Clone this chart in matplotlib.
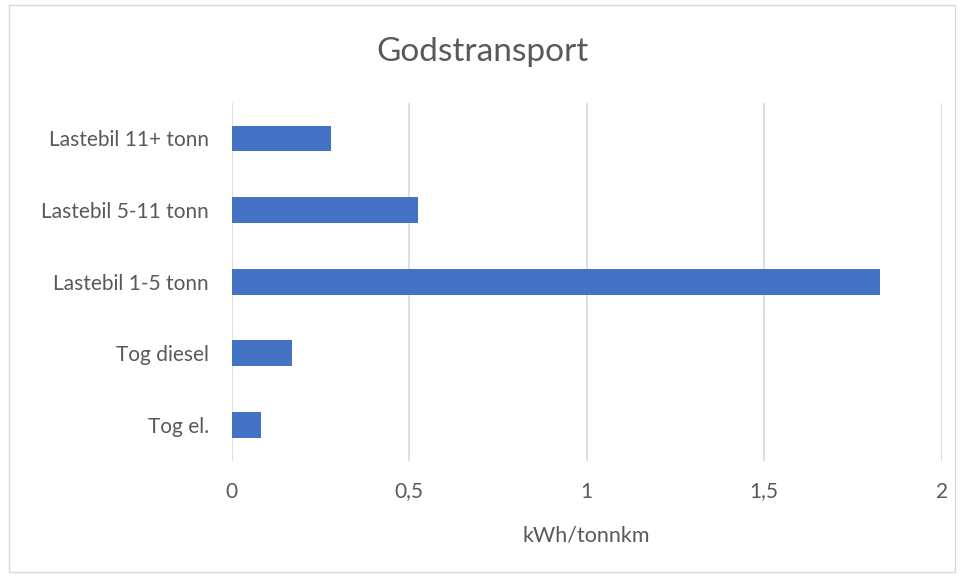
import matplotlib.pyplot as plt
from matplotlib.patches import Rectangle

categories = ['Tog el.', 'Tog diesel', 'Lastebil 1-5 tonn', 'Lastebil 5-11 tonn', 'Lastebil 11+ tonn']
values = [0.081, 0.171, 1.826, 0.526, 0.279]
xticks = [0, 0.5, 1, 1.5, 2]
xlabels = ['0', '0,5', '1', '1,5', '2']

plt.rcParams['font.family'] = ['Lato', 'DejaVu Sans']
txt = '#595959'

fig = plt.figure(figsize=(9.64, 5.76), dpi=100)
ax = fig.add_axes([0.2404, 0.2002, 0.7365, 0.6215])

ax.barh(range(len(categories)), values, height=0.36, color='#4472c4', zorder=3)
ax.set_ylim(-0.5, len(categories) - 0.5)
ax.set_xlim(0, 2)
ax.set_yticks(range(len(categories)))
ax.set_yticklabels(categories)
ax.set_xticks(xticks)
ax.set_xticklabels(xlabels)
ax.grid(axis='x', color='#d9d9d9', linewidth=1.2, zorder=0)
for s in ax.spines.values():
    s.set_visible(False)
ax.tick_params(length=0, labelsize=15, labelcolor=txt)
ax.tick_params(axis='x', pad=15)
ax.tick_params(axis='y', pad=16.5)
ax.set_xlabel('kWh/tonnkm', fontsize=15.5, color=txt, labelpad=17)

fig.text(0.5, 0.909, 'Godstransport', ha='center', va='center', fontsize=24, color=txt)
fig.patches.append(Rectangle((0.009, 0.007), 0.982, 0.985, transform=fig.transFigure,
                             fill=False, edgecolor='#d9d9d9', linewidth=1))

fig.savefig('out.png', dpi=100)
